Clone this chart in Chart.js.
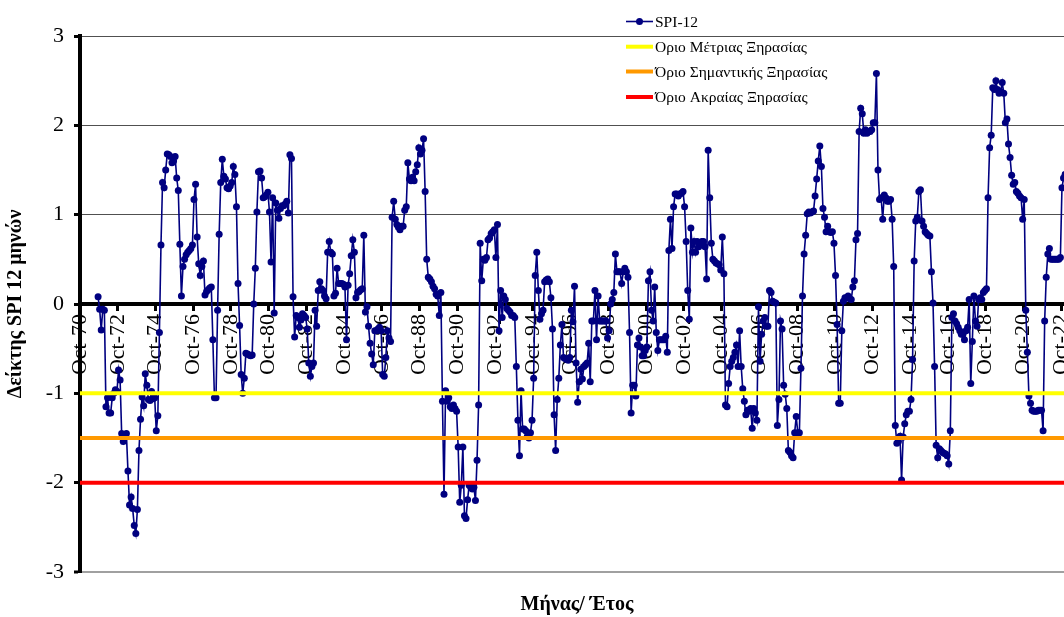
<!DOCTYPE html>
<html>
<head>
<meta charset="utf-8">
<script src="https://cdn.jsdelivr.net/npm/chart.js@4.4.1/dist/chart.umd.min.js"></script>
<style>
  html, body { margin: 0; padding: 0; background: #ffffff; overflow: hidden; }
  #wrap { position: relative; width: 1064px; height: 617px; }
</style>
</head>
<body>
<div id="wrap"><canvas id="spiChart" width="1064" height="617"></canvas></div>
<script>
// Tick labels on the time axis, one every 24 months starting October 1970
const tickLabels = ['Oct-70','Oct-72','Oct-74','Oct-76','Oct-78','Oct-80','Oct-82','Oct-84',
  'Oct-86','Oct-88','Oct-90','Oct-92','Oct-94','Oct-96','Oct-98','Oct-00','Oct-02','Oct-04',
  'Oct-06','Oct-08','Oct-10','Oct-12','Oct-14','Oct-16','Oct-18','Oct-20','Oct-22'];
const monthsPerTick = 24;

// First SPI-12 value is September 1971 (months counted from October 1970)
const seriesStart = 11;
const seriesName = 'SPI-12';

// Monthly SPI-12 values
const spi12 = [
  // 1971-1972
  0.08, -0.06, -0.29, -0.06, -0.07, -1.15, -1.05, -1.22, -1.22, -1.05, -1.00, -0.96, -0.98,
  // 1972-1974
  -0.74, -0.85, -1.45, -1.54, -1.46, -1.45, -1.87, -2.25, -2.16, -2.29, -2.48, -2.57,
  -2.30, -1.64, -1.29, -1.04, -1.14, -0.78, -0.91, -1.07, -1.08, -0.98, -1.06, -1.05,
  // 1974-1976
  -1.42, -1.25, -0.32, 0.66, 1.36, 1.30, 1.50, 1.68, 1.67, 1.65, 1.58, 1.60,
  1.65, 1.41, 1.27, 0.67, 0.09, 0.42, 0.50, 0.55, 0.58, 0.60, 0.62, 0.66,
  // 1976-1978
  1.17, 1.34, 0.75, 0.45, 0.32, 0.42, 0.48, 0.10, 0.14, 0.16, 0.18, 0.19,
  -0.40, -1.05, -1.05, -0.07, 0.78, 1.36, 1.62, 1.43, 1.40, 1.30, 1.29, 1.32,
  // 1978-1980
  1.36, 1.54, 1.45, 1.09, 0.23, -0.24, -0.79, -1.00, -0.83, -0.55, -0.56, -0.57,
  -0.58, -0.57, 0.00, 0.40, 1.03, 1.48, 1.49, 1.41, 1.19, 1.20, 1.22, 1.25,
  // 1980-1981
  1.03, 0.47, 1.19, -0.10, 1.13, 1.05, 0.96, 1.07, 1.10, 1.10, 1.12, 1.15, 1.02, 1.67, 1.63, 0.08,
  // 1982-1988
  -0.37, -0.13, -0.15, -0.26, -0.18, -0.11, -0.13, -0.15, -0.28, -0.66,
  -0.81, -0.70, -0.66, -0.07, -0.25, 0.15, 0.25, 0.17, 0.15, 0.09,
  0.06, 0.58, 0.70, 0.58, 0.56, 0.09, 0.12, 0.40, 0.23, 0.23,
  0.23, 0.22, 0.19, -0.40, 0.21, 0.34, 0.54, 0.72, 0.58, 0.07,
  0.13, 0.14, 0.16, 0.17, 0.77, -0.09, -0.03, -0.25, -0.44, -0.56,
  -0.68, -0.30, -0.30, -0.28, -0.26, -0.30, -0.79, -0.81, -0.60, -0.30,
  -0.38, -0.42, 0.97, 1.15, 0.95, 0.89, 0.86, 0.83, 0.87, 0.87,
  1.05, 1.09, 1.58,
  // 1988-1997
  1.40, 1.38, 1.42, 1.38, 1.48, 1.56, 1.75, 1.68, 1.72, 1.85, 1.26, 0.50,
  0.30, 0.28, 0.25, 0.20, 0.17, 0.11, 0.09, -0.13, 0.13, -1.09, -2.13, -0.97,
  -1.09, -1.05, -1.15, -1.17, -1.13, -1.17, -1.20, -1.60, -2.22, -2.03, -1.60, -2.37,
  -2.40, -2.19, -2.03, -2.05, -2.07, -2.05, -2.20, -1.75, -1.13, 0.68, 0.26, 0.50,
  0.49, 0.52, 0.72, 0.74, 0.79, 0.81, 0.83, 0.52, 0.89, -0.30, 0.15, -0.15,
  0.09, 0.05, -0.05, -0.07, -0.09, -0.13, -0.13, -0.15, -0.70, -1.30, -1.70, -0.97,
  -1.40, -1.40, -1.42, -1.48, -1.50, -1.44, -1.30, -0.83, 0.32, 0.58, 0.15, -0.17,
  -0.11, -0.07, 0.25, 0.27, 0.28, 0.25, 0.07, -0.28, -1.24, -1.64, -1.07, -0.83,
  -0.46, -0.23, -0.60, -0.61, -0.62, -0.63, -0.60, -0.07, -0.20, 0.20, -0.66, -1.10,
  // 1997-2005
  -0.87, -0.73, -0.84, -0.70, -0.68, -0.66, -0.44, -0.87, -0.19, -0.19, 0.15, -0.40,
  0.09, -0.19, -0.19, -0.19, -0.19, -0.19, -0.38, -0.30, 0.00, 0.05, 0.13, 0.56,
  0.36, 0.36, 0.36, 0.23, 0.36, 0.40, 0.36, 0.30, -0.32, -1.22, -0.91, -0.91,
  -1.03, -0.46, -0.38, -0.48, -0.58, -0.58, -0.52, -0.48, 0.26, 0.36, -0.07, -0.19,
  0.19, -0.32, -0.52, -0.40, -0.40, -0.40, -0.40, -0.36, -0.54, 0.60, 0.95, 0.62,
  1.09, 1.23, 1.23, 1.21, 1.23, 1.24, 1.26, 1.09, 0.70, 0.15, -0.17, 0.85,
  0.58, 0.70, 0.58, 0.70, 0.64, 0.67, 0.70, 0.70, 0.64, 0.28, 1.72, 1.19,
  0.68, 0.50, 0.48, 0.46, 0.45, 0.44, 0.38, 0.75, 0.34, -1.13, -1.15, -0.89,
  -0.70, -0.64, -0.60, -0.54, -0.46, -0.70, -0.30,
  // 2005-2014
  -0.70, -0.95, -1.09, -1.24, -1.19, -1.20, -1.17, -1.39, -1.17, -1.22,
  -1.30, -0.03, -0.64, -0.34, -0.19, -0.15, -0.25, -0.25, 0.15, 0.13,
  0.03, 0.02, 0.01, -1.36, -1.07, -0.19, -0.28, -0.91, -1.01, -1.17,
  -1.64, -1.66, -1.70, -1.72, -1.44, -1.26, -1.44, -1.44, -0.72, 0.09,
  0.56, 0.77, 1.01, 1.03, 1.02, 1.03, 1.04, 1.21, 1.40, 1.60,
  1.77, 1.54, 1.07, 0.97, 0.81, 0.87, 0.81, 0.80, 0.81, 0.68,
  0.32, -0.23, -1.11, -1.11, -0.30, 0.03, 0.07, 0.07, 0.09, 0.06,
  0.05, 0.19, 0.26, 0.72, 0.79, 1.93, 2.19, 2.13, 1.91, 1.95,
  1.91, 1.93, 1.93, 1.95, 2.03, 2.03, 2.58, 1.50, 1.17, 1.19,
  0.95, 1.22, 1.19, 1.15, 1.15, 1.17, 0.95, 0.42, -1.36, -1.56,
  -1.54, -1.48, -1.97, -1.49, -1.34, -1.24, -1.20,
  // 2014-2023
  -1.20, -1.07, -0.62, 0.48, 0.93, 0.97, 1.26, 1.28, 0.93, 0.87,
  0.81, 0.79, 0.77, 0.76, 0.36, 0.01, -0.70, -1.58, -1.72, -1.62,
  -1.64, -1.66, -1.67, -1.68, -1.70, -1.79, -1.42, -0.15, -0.11, -0.19,
  -0.22, -0.26, -0.30, -0.34, -0.34, -0.40, -0.30, -0.26, 0.05, -0.89,
  -0.42, 0.09, -0.19, -0.25, 0.05, 0.07, 0.05, 0.13, 0.15, 0.17,
  1.19, 1.75, 1.89, 2.42, 2.40, 2.50, 2.40, 2.36, 2.38, 2.48,
  2.36, 2.03, 2.07, 1.79, 1.64, 1.44, 1.34, 1.36, 1.26, 1.24,
  1.21, 1.19, 0.95, 1.17, -0.07, -0.54, -1.03, -1.11, -1.19, -1.20,
  -1.20, -1.20, -1.19, -1.19, -1.19, -1.42, -0.19, 0.30, 0.56, 0.62,
  0.50, 0.50, 0.50, 0.50, 0.50, 0.50, 0.52, 1.30, 1.41, 1.45
];

// Drought thresholds
const thresholdNames = ['Οριο Μέτριας Ξηρασίας', 'Όριο Σημαντικής Ξηρασίας', 'Όριο Ακραίας Ξηρασίας'];
const thresholdValues = [-1, -1.5, -2];

// Styling
const seriesColor = '#000080';
const thresholdColors = ['#FFFF00', '#FF9900', '#FF0000'];
const serif = '"Liberation Serif", "Times New Roman", serif';
const axisEnd = 625.8;   // visible extent of the time axis, in months

const spiPoints = spi12.map((v, i) => ({ x: seriesStart + i + 0.5, y: v }));

const datasets = [
  {
    label: seriesName,
    data: spiPoints,
    borderColor: seriesColor,
    backgroundColor: seriesColor,
    borderWidth: 1.6,
    pointRadius: 3.5,
    pointBackgroundColor: seriesColor,
    pointBorderColor: seriesColor,
    pointBorderWidth: 0,
    tension: 0,
    order: 2
  },
  ...thresholdValues.map((v, k) => ({
    label: thresholdNames[k],
    data: [{ x: 0, y: v }, { x: axisEnd, y: v }],
    borderColor: thresholdColors[k],
    backgroundColor: thresholdColors[k],
    borderWidth: 4,
    pointRadius: 0,
    order: 1
  }))
];

// Legend list in the upper part of the plot and the time-axis caption
const annotations = {
  id: 'annotations',
  afterDraw(chart) {
    const ctx = chart.ctx;
    ctx.save();
    ctx.textBaseline = 'middle';
    ctx.textAlign = 'left';
    ctx.font = '15.5px ' + serif;
    const x0 = 626, sampleLen = 27, rowY = [21.5, 46.7, 71.5, 97];
    chart.data.datasets.forEach((ds, i) => {
      const y = rowY[i];
      ctx.strokeStyle = ds.borderColor;
      ctx.lineWidth = i === 0 ? 1.6 : 4;
      ctx.beginPath();
      ctx.moveTo(x0, y);
      ctx.lineTo(x0 + sampleLen, y);
      ctx.stroke();
      if (i === 0) {
        ctx.fillStyle = ds.borderColor;
        ctx.beginPath();
        ctx.arc(x0 + sampleLen / 2, y, 3.5, 0, Math.PI * 2);
        ctx.fill();
      }
      ctx.fillStyle = '#000';
      ctx.fillText(ds.label, x0 + sampleLen + 2, y + 1);
    });
    ctx.font = 'bold 20px ' + serif;
    ctx.textAlign = 'center';
    ctx.fillText('Μήνας/ Έτος', 577, 605);
    ctx.restore();
  }
};

new Chart(document.getElementById('spiChart'), {
  type: 'line',
  data: { datasets },
  plugins: [annotations],
  options: {
    responsive: false,
    animation: false,
    devicePixelRatio: 1,
    layout: { autoPadding: false, padding: { top: 36, bottom: 45, left: 0, right: 0 } },
    plugins: { legend: { display: false }, tooltip: { enabled: false } },
    scales: {
      x: {
        type: 'linear',
        min: 0,
        max: axisEnd,
        position: { y: 0 },
        afterBuildTicks(scale) {
          scale.ticks = tickLabels.map((_, k) => ({ value: k * monthsPerTick }));
        },
        afterFit(scale) { scale.paddingLeft = 0; scale.paddingRight = 0; },
        border: { display: true, color: '#000', width: 4 },
        grid: { display: true, drawOnChartArea: false, drawTicks: true, tickLength: 5, tickWidth: 3, tickColor: '#000' },
        ticks: {
          autoSkip: false,
          minRotation: 90,
          maxRotation: 90,
          padding: 5,
          color: '#000',
          font: { family: serif, size: 22 },
          callback: (value) => tickLabels[Math.round(value / monthsPerTick)]
        }
      },
      y: {
        min: -3,
        max: 3,
        afterFit(scale) { scale.width = 80; },
        border: { display: true, color: '#000', width: 4 },
        grid: {
          color: (c) => c.tick.value === 0 ? 'rgba(0,0,0,0)' : (c.tick.value === -3 ? '#a0a0a0' : '#505050'),
          lineWidth: (c) => c.tick.value === -3 ? 2 : 1,
          drawTicks: true,
          tickLength: 6,
          tickWidth: 3,
          tickColor: '#000'
        },
        ticks: {
          stepSize: 1,
          padding: 10,
          color: '#000',
          font: { family: serif, size: 22 }
        },
        title: {
          display: true,
          text: 'Δείκτης SPI 12 μηνών',
          color: '#000',
          font: { family: serif, size: 20, weight: 'bold' },
          padding: { top: 4, bottom: 0 }
        }
      }
    }
  }
});
</script>
</body>
</html>
